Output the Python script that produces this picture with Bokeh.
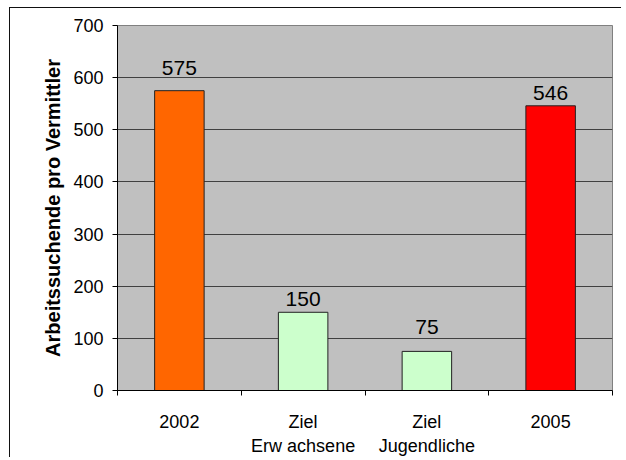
from bokeh.plotting import figure
from bokeh.models import FixedTicker, ColumnDataSource, Range1d
from bokeh.core.properties import value
from bokeh.embed import file_html
from bokeh.resources import INLINE

# ---- data ----
categories = ["2002", "Ziel\nErw achsene", "Ziel\nJugendliche", "2005"]
values = [575, 150, 75, 546]
bar_colors = ["#FF6600", "#CCFFCC", "#CCFFCC", "#FF0000"]
y_ticks = [0, 100, 200, 300, 400, 500, 600, 700]
y_title = "Arbeitssuchende pro Vermittler"

positions = [i + 0.5 for i in range(len(categories))]
labels = [str(v) for v in values]
# per-label offset (px) above bar top, as in the original
label_gap = [23, 13, 24, 13]

src = ColumnDataSource(dict(x=positions, top=values, color=bar_colors,
                            label=labels, yoff=[-g for g in label_gap]))

p = figure(width=612, height=450, output_backend="svg", toolbar_location=None,
           x_range=Range1d(0, len(categories)), y_range=Range1d(0, 700),
           min_border_left=107, min_border_right=10, min_border_top=17,
           min_border_bottom=66)
p.styles = {"border-top": "1px solid #111", "border-left": "1px solid #111",
            "margin-left": "9px", "margin-top": "7px"}

p.background_fill_color = "#C0C0C0"
p.border_fill_color = "white"
p.outline_line_color = "#808080"
p.outline_line_width = 1

p.vbar(x="x", top="top", width=0.4, bottom=0, source=src,
       fill_color="color", line_color="#222222", line_width=1)

p.text(x="x", y="top", text="label", source=src, y_offset="yoff",
       text_align="center", text_baseline="alphabetic",
       text_font=value("Liberation Sans"), text_font_size="21px",
       text_color="black")

# x axis
p.xaxis.ticker = FixedTicker(ticks=positions, minor_ticks=list(range(len(categories) + 1)))
p.xaxis.major_label_overrides = {pos: lab for pos, lab in zip(positions, categories)}
p.xaxis.major_tick_out = 0
p.xaxis.major_tick_in = 0
p.xaxis.minor_tick_out = 5
p.xaxis.minor_tick_in = 0
p.xaxis.minor_tick_line_color = "black"
p.xaxis.major_label_standoff = 16
p.xaxis.major_label_text_font = "Liberation Sans"
p.xaxis.major_label_text_font_size = "18px"
p.xaxis.major_label_text_color = "black"
p.xaxis.axis_line_color = "black"

# y axis
p.yaxis.ticker = FixedTicker(ticks=y_ticks)
p.yaxis.minor_tick_line_color = None
p.yaxis.major_tick_out = 5
p.yaxis.major_tick_in = 0
p.yaxis.major_tick_line_color = "black"
p.yaxis.major_label_standoff = 9
p.yaxis.major_label_text_font = "Liberation Sans"
p.yaxis.major_label_text_font_size = "18px"
p.yaxis.major_label_text_color = "black"
p.yaxis.axis_line_color = "black"
p.yaxis.axis_label = y_title
p.yaxis.axis_label_text_font = "Liberation Sans"
p.yaxis.axis_label_text_font_style = "bold"
p.yaxis.axis_label_text_font_size = "20px"
p.yaxis.axis_label_text_color = "black"
p.yaxis.axis_label_standoff = 6

# grid
p.xgrid.grid_line_color = None
p.ygrid.ticker = FixedTicker(ticks=y_ticks[1:-1])
p.ygrid.grid_line_color = "#404040"
p.ygrid.grid_line_width = 1

open("out.html", "w").write(file_html(p, INLINE))
